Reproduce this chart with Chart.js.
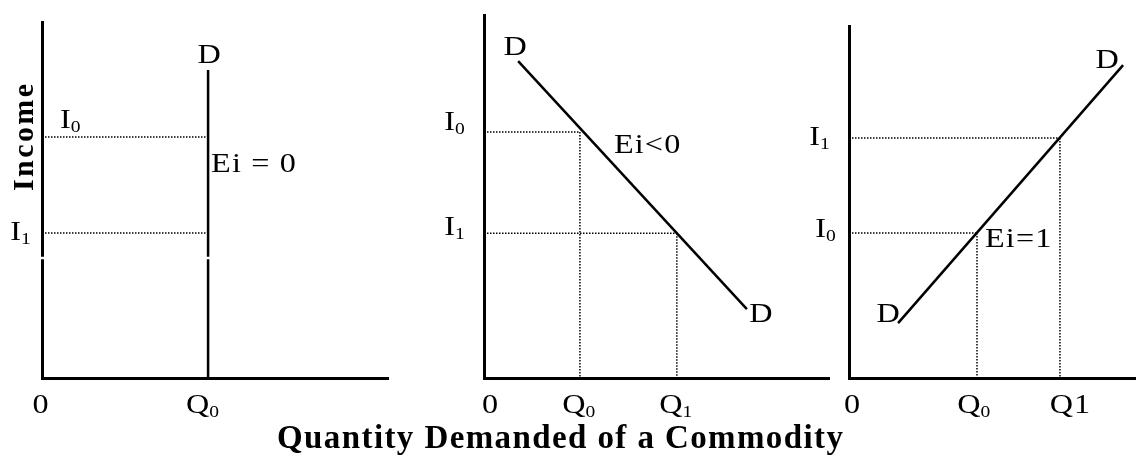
<!DOCTYPE html>
<html>
<head>
<meta charset="utf-8">
<script src="https://cdn.jsdelivr.net/npm/chart.js@4.4.1/dist/chart.umd.min.js"></script>
<style>
  html, body { margin: 0; padding: 0; background: #fff; }
  #wrap { position: relative; width: 1136px; height: 455px; }
  #wrap canvas { position: absolute; left: 0; top: 0; }
</style>
</head>
<body>
<div id="wrap">
  <canvas id="zeroChart" width="1136" height="455"></canvas>
  <canvas id="negChart" width="1136" height="455"></canvas>
  <canvas id="unitChart" width="1136" height="455"></canvas>
</div>
<script>
// Panel 1 - Ei = 0 (vertical curve)
const zeroIncome = [67.7, 40.7];      // I0, I1
const zeroQuantity = [48, 48];        // Q0 at both income levels
const zeroDemandX = [48, 48];
const zeroDemandY = [0, 86.5];
const zeroTicks = [['0', ''], ['Q', '0']];
const zeroBreakY = 33.7;              // little white break across the lines

// Panel 2 - Ei < 0
const negIncome = [67.8, 39.9];       // I0, I1
const negQuantity = [27.8, 55.9];     // Q0, Q1
const negDemandX = [9.9, 76.2];
const negDemandY = [87.3, 19.0];
const negTicks = [['0', ''], ['Q', '0'], ['Q', '1']];

// Panel 3 - Ei = 1
const unitIncome = [41.2, 68.2];      // I0, I1
const unitQuantity = [44.6, 73.5];    // Q0, Q1
const unitDemandX = [17.1, 95.5];
const unitDemandY = [15.6, 88.9];
const unitTicks = [['0', ''], ['Q', '0'], ['Q1', '']];

const incomeNames = [['I', '0'], ['I', '1']];

const SERIF = '"Liberation Serif", "Times New Roman", serif';
const W = 1136, H = 455;

const panels = [
    {
        id: 'zeroChart', area: { left: 42, top: 22, right: 388, bottom: 378 },
        income: zeroIncome, quantity: zeroQuantity, demandX: zeroDemandX, demandY: zeroDemandY,
        ticks: zeroTicks, verticals: false, breakY: zeroBreakY,
        tickDx: [-1.5, -4.5],
        incomeOffsets: [{ dx: 18, dy: -9, align: 'left' }, { dx: -9, dy: 7, align: 'right' }],
        demandOffsets: [null, { dx: 1, dy: -7 }],
        elasticity: { text: 'Ei = 0', dx: 3, dy: 35 },
        axisTitles: true
    },
    {
        id: 'negChart', area: { left: 484, top: 15, right: 829, bottom: 378 },
        income: negIncome, quantity: negQuantity, demandX: negDemandX, demandY: negDemandY,
        ticks: negTicks, verticals: true,
        tickDx: [6, 0, 0],
        incomeOffsets: [{ dx: -17, dy: -2, align: 'right' }, { dx: -17, dy: 2, align: 'right' }],
        demandOffsets: [{ dx: -3, dy: -6 }, { dx: 14, dy: 13 }],
        elasticity: { text: 'Ei<0', dx: 34, dy: 21 }
    },
    {
        id: 'unitChart', area: { left: 849, top: 26, right: 1136, bottom: 378 },
        income: unitIncome, quantity: unitQuantity, demandX: unitDemandX, demandY: unitDemandY,
        ticks: unitTicks, verticals: true,
        tickDx: [3, -2, 10],
        incomeOffsets: [{ dx: -11, dy: 4, align: 'right' }, { dx: -17, dy: 7, align: 'right' }],
        demandOffsets: [{ dx: -10, dy: -1 }, { dx: -16, dy: 3 }],
        elasticity: { text: 'Ei=1', dx: 8, dy: 14 }
    }
];

// text with optional subscript; stretch/spacing make it look like the original
function drawRich(ctx, main, sub, x, y, align, opt) {
    const size = opt.size || 28;
    const stretch = opt.stretch || 1.15;
    const spacing = opt.spacing === undefined ? 1 : opt.spacing;
    const weight = opt.bold ? 'bold ' : '';
    const subSize = Math.round(size * 0.6);
    ctx.save();
    ctx.letterSpacing = spacing + 'px';
    ctx.font = weight + size + 'px ' + SERIF;
    const mainW = ctx.measureText(main).width;
    ctx.font = weight + subSize + 'px ' + SERIF;
    const subW = sub ? ctx.measureText(sub).width : 0;
    const total = (mainW + subW - (sub ? 0 : spacing)) * stretch;
    let x0 = x;
    if (align === 'center') x0 = x - total / 2;
    else if (align === 'right') x0 = x - total;
    ctx.translate(x0, y);
    ctx.scale(stretch, 1);
    ctx.fillStyle = '#000';
    ctx.textAlign = 'left';
    ctx.textBaseline = 'alphabetic';
    ctx.font = weight + size + 'px ' + SERIF;
    ctx.fillText(main, 0, 0);
    if (sub) {
        ctx.font = weight + subSize + 'px ' + SERIF;
        ctx.fillText(sub, mainW - spacing, size * 0.15);
    }
    ctx.restore();
}

const plainText = { size: 28, stretch: 1.15, spacing: 1 };

function labelPlugin(p) {
    return {
        id: 'econLabels',
        afterDraw(chart) {
            const { ctx } = chart;
            const xs = chart.scales.x, ys = chart.scales.y;
            const px = v => xs.getPixelForValue(v);
            const py = v => ys.getPixelForValue(v);

            // quantity tick labels
            const tickValues = [0, ...new Set(p.quantity)];
            tickValues.forEach((v, i) => {
                const [main, sub] = p.ticks[i];
                drawRich(ctx, main, sub, px(v) + p.tickDx[i], py(0) + 35, 'center', plainText);
            });

            // income levels
            p.income.forEach((v, i) => {
                const o = p.incomeOffsets[i];
                drawRich(ctx, incomeNames[i][0], incomeNames[i][1], px(0) + o.dx, py(v) + o.dy, o.align, plainText);
            });

            // D at the curve ends
            p.demandOffsets.forEach((o, i) => {
                if (!o) return;
                drawRich(ctx, 'D', '', px(p.demandX[i]) + o.dx, py(p.demandY[i]) + o.dy, 'center', plainText);
            });

            // elasticity note next to the first point
            const e = p.elasticity;
            drawRich(ctx, e.text, '', px(p.quantity[0]) + e.dx, py(p.income[0]) + e.dy, 'left', plainText);

            if (p.axisTitles) {
                drawRich(ctx, 'Quantity Demanded of a Commodity', '', 560, 448, 'center',
                    { size: 33, stretch: 1, spacing: 1.4, bold: true });
                ctx.save();
                ctx.translate(33, 137.5);
                ctx.rotate(-Math.PI / 2);
                drawRich(ctx, 'Income', '', 0, 0, 'center', { size: 30, stretch: 1, spacing: 2.4, bold: true });
                ctx.restore();
            }
        }
    };
}

function buildDatasets(p) {
    const sets = [];
    sets.push({
        data: p.demandX.map((x, i) => ({ x, y: p.demandY[i] })),
        borderColor: '#000', borderWidth: 2.5, order: 1
    });
    p.income.forEach((inc, i) => {
        const q = p.quantity[i];
        sets.push({
            data: [{ x: 0, y: inc }, { x: q, y: inc }],
            borderColor: '#000', borderWidth: 1.5, borderDash: [1.5, 1.5], order: 2
        });
        if (p.verticals) {
            sets.push({
                data: [{ x: q, y: inc }, { x: q, y: 0 }],
                borderColor: '#000', borderWidth: 1.5, borderDash: [1.5, 1.5], order: 2
            });
        }
    });
    if (p.breakY !== undefined) {
        sets.push({
            data: [{ x: -4, y: p.breakY }, { x: p.quantity[0] + 4, y: p.breakY }],
            borderColor: '#fff', borderWidth: 2.5, clip: false, order: 0
        });
    }
    sets.forEach(s => { s.showLine = true; s.pointRadius = 0; s.fill = false; });
    return sets;
}

const axisStyle = {
    min: 0, max: 100,
    grid: { display: false, drawTicks: false },
    ticks: { display: false },
    border: { display: true, color: '#000', width: 3 }
};

panels.forEach(p => {
    const ctx = document.getElementById(p.id).getContext('2d');
    new Chart(ctx, {
        type: 'scatter',
        data: { datasets: buildDatasets(p) },
        options: {
            responsive: false,
            animation: false,
            events: [],
            layout: {
                padding: { left: p.area.left, top: p.area.top, right: W - p.area.right, bottom: H - p.area.bottom }
            },
            plugins: { legend: { display: false }, tooltip: { enabled: false }, title: { display: false } },
            scales: {
                x: { type: 'linear', position: 'bottom', ...axisStyle },
                y: { type: 'linear', position: 'left', ...axisStyle }
            }
        },
        plugins: [labelPlugin(p)]
    });
});
</script>
</body>
</html>
